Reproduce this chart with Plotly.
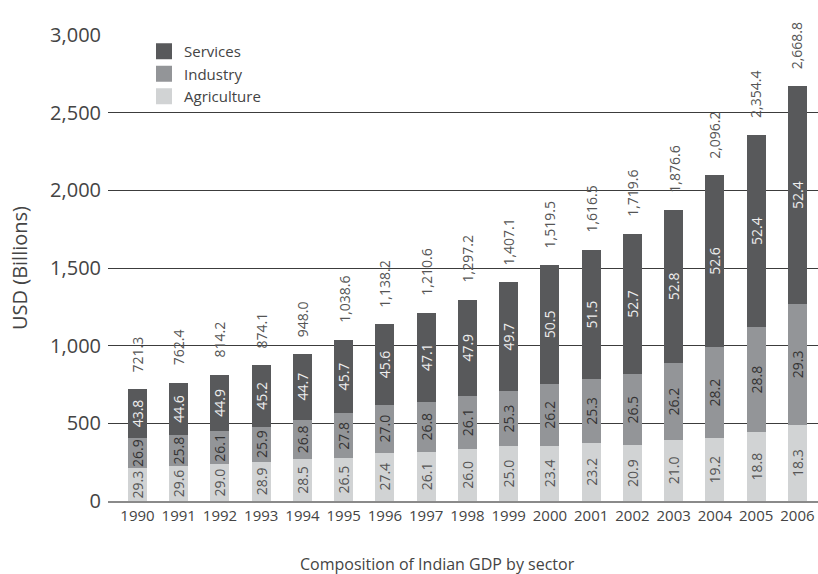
import plotly.graph_objects as go

years = list(range(1990, 2007))
totals = [721.3, 762.4, 814.2, 874.1, 948.0, 1038.6, 1138.2, 1210.6, 1297.2,
          1407.1, 1519.5, 1616.5, 1719.6, 1876.6, 2096.2, 2354.4, 2668.8]
agriculture_pct = [29.3, 29.6, 29.0, 28.9, 28.5, 26.5, 27.4, 26.1, 26.0,
                   25.0, 23.4, 23.2, 20.9, 21.0, 19.2, 18.8, 18.3]
industry_pct = [26.9, 25.8, 26.1, 25.9, 26.8, 27.8, 27.0, 26.8, 26.1,
                25.3, 26.2, 25.3, 26.5, 26.2, 28.2, 28.8, 29.3]
services_pct = [43.8, 44.6, 44.9, 45.2, 44.7, 45.7, 45.6, 47.1, 47.9,
                49.7, 50.5, 51.5, 52.7, 52.8, 52.6, 52.4, 52.4]

FONT = "Open Sans"

series = [
    ("Agriculture", agriculture_pct, "#d1d3d4", "#555555"),
    ("Industry", industry_pct, "#939598", "#333333"),
    ("Services", services_pct, "#58595b", "#eeeeee"),
]

fig = go.Figure()
for name, pct, color, tcolor in series:
    vals = [p / 100.0 * t for p, t in zip(pct, totals)]
    fig.add_trace(go.Bar(
        x=years, y=vals, name=name, showlegend=False,
        marker=dict(color=color, line=dict(width=0)),
        text=[f"{p:.1f}" for p in pct],
        textposition="inside", insidetextanchor="middle",
        textangle=-90,
        textfont=dict(family=FONT, size=14, color=tcolor),
        cliponaxis=False,
    ))

# legend entries (square swatches)
for name, pct, color, tcolor in reversed(series):
    fig.add_trace(go.Scatter(
        x=[None], y=[None], name=name, mode="markers",
        marker=dict(symbol="square", size=20, color=color),
        showlegend=True,
    ))

for yr, t in zip(years, totals):
    fig.add_annotation(
        x=yr, y=t, text=f"{t:,.1f}", showarrow=False,
        textangle=-90, yanchor="bottom", xanchor="center", yshift=15,
        font=dict(family=FONT, size=14, color="#555555"),
    )

fig.add_annotation(
    xref="paper", yref="paper", x=0.4634, y=-0.136,
    text="Composition of Indian GDP by sector", showarrow=False,
    xanchor="center", yanchor="middle",
    font=dict(family=FONT, size=16, color="#444444"),
)

fig.update_layout(
    width=818, height=574,
    margin=dict(l=108, r=0, t=35, b=72.5, autoexpand=False),
    plot_bgcolor="white", paper_bgcolor="white",
    barmode="stack", bargap=0.54,
    uniformtext=dict(minsize=14, mode="show"),
    showlegend=True,
    legend=dict(
        x=0.0507, y=1.0, xanchor="left", yanchor="top",
        traceorder="normal",
        font=dict(family=FONT, size=15, color="#444444"),
        bgcolor="rgba(0,0,0,0)", tracegroupgap=0,
    ),
    font=dict(family=FONT, color="#444444"),
)

fig.update_xaxes(
    range=[1990 - 0.715, 2006.5], tickmode="array", tickvals=years,
    ticktext=[str(y) for y in years],
    showgrid=False, showline=True, linecolor="#8a8a8a", linewidth=2,
    zeroline=False,
    ticks="", tickfont=dict(family=FONT, size=15, color="#444444"),
)
fig.update_yaxes(
    range=[0, 3000], dtick=500, tickformat=",",
    showgrid=True, gridcolor="#3c3c3c", gridwidth=1,
    zeroline=False, showline=False, ticks="",
    ticklabelstandoff=6,
    tickfont=dict(family=FONT, size=20, color="#444444"),
    title=dict(text="USD (Billions)", standoff=17,
               font=dict(family=FONT, size=20, color="#444444")),
)

fig.write_html(
    "out.html",
    config={"displayModeBar": False},
    post_script="document.body.style.margin='0';document.body.style.overflow='hidden';",
)
